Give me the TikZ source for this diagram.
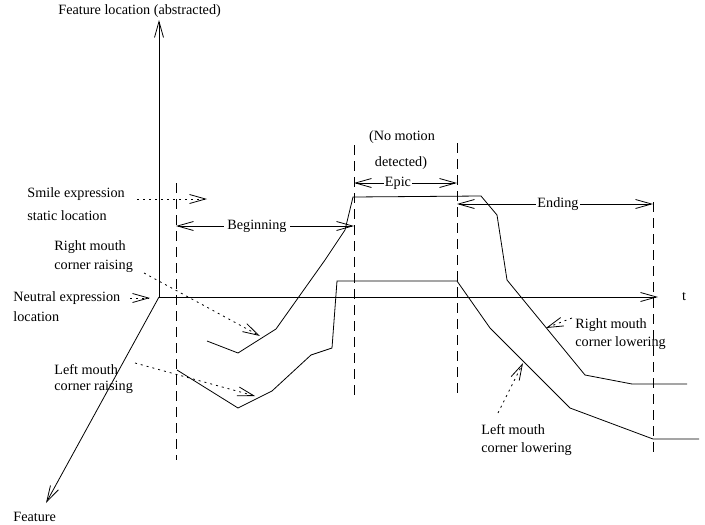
\documentclass[tikz,border=0pt]{standalone}
\usepackage{fontspec}
\setmainfont{Liberation Serif}
\usetikzlibrary{arrows.meta}
\begin{document}
\begin{tikzpicture}[x=1pt,y=-1pt,
  line width=0.8pt,
  barb/.tip={Straight Barb[length=16pt,width=9pt,line width=0.8pt]},
  lbl/.style={font=\fontsize{14.2}{17}\selectfont, inner sep=0pt, anchor=west},
  clbl/.style={font=\fontsize{14.2}{17}\selectfont, inner sep=0pt},
  gapbox/.style={font=\fontsize{14.2}{17}\selectfont, fill=white, inner sep=3pt},
  phase/.style={dash pattern=on 10pt off 6pt},
  pointer/.style={dash pattern=on 2pt off 4pt, -barb},
  span/.style={barb-barb},
  curve/.style={line join=miter}]
\useasboundingbox (0,0) rectangle (705,525);
% axes
\coordinate (O) at (159,297);
\coordinate (ytip) at (159,20);
\coordinate (ttip) at (658,297);
\coordinate (ftip) at (46,503);
\draw[-barb] (O) -- (ytip);
\draw[-barb] (O) -- (ttip);
\draw[-barb] (O) -- (ftip);
\node[lbl] (ylab) at (58,11) {Feature location (abstracted)};
\node[clbl] (tlab) at (684,297) {t};
\node[lbl] (flab) at (13,517) {Feature};
% phase boundaries
\coordinate (b1t) at (176,183); \coordinate (b1b) at (176,460);
\coordinate (b2t) at (354,145); \coordinate (b2b) at (354,395);
\coordinate (b3t) at (457,143); \coordinate (b3b) at (457,395);
\coordinate (b4t) at (653,202); \coordinate (b4b) at (653,455);
\draw[phase] (b1t) -- (b1b);
\draw[phase] (b2t) -- (b2b);
\draw[phase] (b3t) -- (b3b);
\draw[phase] (b4t) -- (b4b);
% phase spans
\coordinate (sb1) at (176,226); \coordinate (sb2) at (354,226);
\coordinate (se1) at (354,183); \coordinate (se2) at (457,183);
\coordinate (sn1) at (457,204); \coordinate (sn2) at (653,204);
\draw[span] (sb1) -- (sb2);
\draw[span] (se1) -- (se2);
\draw[span] (sn1) -- (sn2);
\node[gapbox] (beg) at (257,226) {Beginning};
\node[gapbox, inner sep=1pt] (epic) at (398,183) {Epic};
\node[gapbox, inner sep=1pt] (endg) at (558,204) {Ending};
\node[clbl] (nm1) at (402,137) {(No motion};
\node[clbl] (nm2) at (401,163) {detected)};
% right mouth corner curve
\draw[curve] (207,341) -- (238,353) -- (276,329) -- (325,260) -- (345,230) -- (353,197)
  -- (481,196) -- (497,215) -- (507,280) -- (585,375) -- (632,384) -- (687,384);
% left mouth corner curve
\draw[curve] (177,370) -- (238,408) -- (272,391) -- (311,355) -- (332,348) -- (337,281)
  -- (457,281) -- (490,328) -- (570,408) -- (653,439) -- (699,439);
% left labels
\node[lbl] (sm1) at (27,194) {Smile expression};
\node[lbl] (sm2) at (27,216) {static location};
\node[lbl] (rr1) at (54,247) {Right mouth};
\node[lbl] (rr2) at (54,266) {corner raising};
\node[lbl] (ne1) at (13,298) {Neutral expression};
\node[lbl] (ne2) at (13,317) {location};
\node[lbl] (lr1) at (54,370) {Left mouth};
\node[lbl] (lr2) at (54,387) {corner raising};
\node[lbl] (rl1) at (575,325) {Right mouth};
\node[lbl] (rl2) at (575,343) {corner lowering};
\node[lbl] (ll1) at (481,430) {Left mouth};
\node[lbl] (ll2) at (481,449) {corner lowering};
% pointers
\coordinate (p1s) at (137,199); \coordinate (p1e) at (207,199);
\coordinate (p2s) at (144,273); \coordinate (p2e) at (260,336);
\coordinate (p3s) at (130,298); \coordinate (p3e) at (150,298);
\coordinate (p4s) at (135,363); \coordinate (p4e) at (255,396);
\coordinate (p5s) at (572,318); \coordinate (p5e) at (546,328);
\coordinate (p6s) at (498,413); \coordinate (p6e) at (523,363);
\draw[pointer] (p1s) -- (p1e);
\draw[pointer] (p2s) -- (p2e);
\draw[pointer] (p3s) -- (p3e);
\draw[pointer] (p4s) -- (p4e);
\draw[pointer] (p5s) -- (p5e);
\draw[pointer] (p6s) -- (p6e);
\end{tikzpicture}
\end{document}
